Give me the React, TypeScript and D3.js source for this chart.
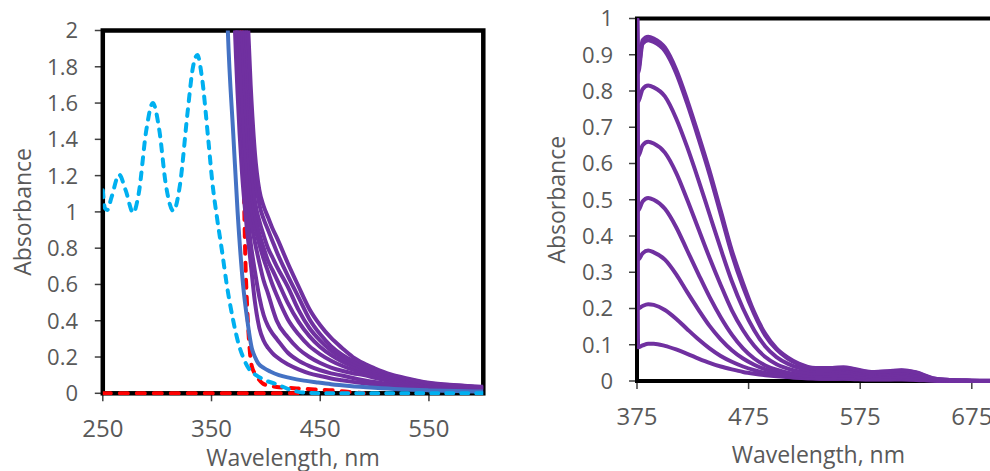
import React from "react";
import * as d3 from "d3";

// ---------- Left panel data ----------
const leftXTicks = [250, 350, 450, 550];
const leftYTicks = [0, 0.2, 0.4, 0.6, 0.8, 1, 1.2, 1.4, 1.6, 1.8, 2];
const leftYLabels = ["0", "0.2", "0.4", "0.6", "0.8", "1", "1.2", "1.4", "1.6", "1.8", "2"];

const leftGrid = [366, 370, 374, 378, 382, 386, 390, 394, 398, 402, 406, 410, 420, 430, 440, 450, 460, 470, 480, 490, 500, 515, 530, 550, 575, 600];
const leftP1 = [3.5, 2.3, 1.65, 1.22, 0.94, 0.72, 0.5, 0.36, 0.29, 0.25, 0.222, 0.2, 0.16, 0.132, 0.11, 0.095, 0.082, 0.072, 0.063, 0.055, 0.048, 0.04, 0.034, 0.028, 0.023, 0.02];
const leftP2 = [4, 2.6, 1.8, 1.35, 1.05, 0.83, 0.67, 0.53, 0.43, 0.37, 0.33, 0.3, 0.225, 0.18, 0.15, 0.127, 0.11, 0.098, 0.084, 0.072, 0.062, 0.05, 0.042, 0.034, 0.028, 0.023];
const leftP3 = [4.5, 3, 2.0, 1.5, 1.15, 0.96, 0.83, 0.72, 0.62, 0.55, 0.47, 0.4, 0.31, 0.245, 0.2, 0.167, 0.142, 0.124, 0.111, 0.1, 0.085, 0.066, 0.053, 0.041, 0.032, 0.026];
const leftP4 = [5, 3.4, 2.3, 1.65, 1.25, 1.04, 0.92, 0.82, 0.74, 0.67, 0.6, 0.54, 0.41, 0.325, 0.26, 0.215, 0.18, 0.152, 0.13, 0.113, 0.1, 0.078, 0.062, 0.046, 0.036, 0.028];
const leftP5 = [5, 3.6, 2.6, 2.0, 1.5, 1.16, 0.98, 0.88, 0.8, 0.73, 0.68, 0.63, 0.5, 0.395, 0.315, 0.255, 0.21, 0.175, 0.148, 0.127, 0.111, 0.087, 0.069, 0.05, 0.039, 0.03];
const leftP6 = [5, 4, 3, 2.3, 1.75, 1.32, 1.06, 0.95, 0.87, 0.8, 0.75, 0.7, 0.59, 0.46, 0.36, 0.29, 0.235, 0.195, 0.163, 0.139, 0.12, 0.094, 0.074, 0.053, 0.041, 0.032];
const leftP7 = [5, 4.2, 3.3, 2.6, 1.98, 1.5, 1.2, 1.04, 0.96, 0.9, 0.84, 0.78, 0.65, 0.53, 0.41, 0.325, 0.26, 0.213, 0.178, 0.15, 0.13, 0.1, 0.078, 0.056, 0.043, 0.034];
const leftP8 = [5, 4.5, 3.6, 2.9, 2.25, 1.7, 1.32, 1.12, 1.03, 0.97, 0.91, 0.86, 0.72, 0.59, 0.465, 0.375, 0.305, 0.25, 0.2, 0.165, 0.138, 0.104, 0.082, 0.058, 0.045, 0.036];
const leftPurple = [leftP1, leftP2, leftP3, leftP4, leftP5, leftP6, leftP7, leftP8];

const blueWl = [362, 365, 370, 374, 379, 383, 387, 390, 393, 398, 404, 412, 422, 435, 447, 460, 477, 500, 523, 550, 575, 600];
const blueAbs = [2.6, 2.0, 1.43, 1.0, 0.6, 0.4, 0.25, 0.2, 0.165, 0.14, 0.12, 0.1, 0.085, 0.07, 0.06, 0.05, 0.04, 0.03, 0.022, 0.016, 0.012, 0.01];

const cyanWl = [250, 252, 254, 258, 265, 271, 278, 283, 290, 296, 302, 308, 315, 321, 328, 333, 337, 341, 347, 351, 355, 360, 364, 370, 375, 379, 385, 391, 400, 410, 420, 430, 440, 460, 600];
const cyanAbs = [1.12, 1.02, 1.01, 1.08, 1.205, 1.12, 0.995, 1.1, 1.45, 1.6, 1.45, 1.15, 1.005, 1.15, 1.55, 1.8, 1.865, 1.75, 1.4, 1.15, 0.97, 0.77, 0.6, 0.4, 0.27, 0.2, 0.13, 0.1, 0.07, 0.05, 0.025, 0.008, 0.002, 0, 0];

const redWl = [376, 379, 381, 383, 385, 387, 391, 397, 404, 410, 420, 431, 445, 462, 475, 490];
const redAbs = [2.5, 1.4, 0.77, 0.45, 0.25, 0.15, 0.1, 0.055, 0.04, 0.035, 0.03, 0.026, 0.021, 0.016, 0.008, 0];
const redBaseWl = [250, 430];
const redBaseAbs = [0, 0];

// ---------- Right panel data ----------
const rightXTicks = [375, 475, 575, 675];
const rightYTicks = [0, 0.1, 0.2, 0.3, 0.4, 0.5, 0.6, 0.7, 0.8, 0.9, 1];
const rightYLabels = ["0", "0.1", "0.2", "0.3", "0.4", "0.5", "0.6", "0.7", "0.8", "0.9", "1"];

const rightGrid = [375, 376, 380, 385, 390, 400, 410, 420, 430, 440, 450, 460, 470, 480, 490, 500, 510, 520, 535, 550, 560, 570, 585, 600, 612, 625, 640, 655, 675, 700];
const rightC8 = [1.05, 0.86, 0.94, 0.95, 0.945, 0.92, 0.86, 0.775, 0.68, 0.58, 0.47, 0.36, 0.27, 0.19, 0.13, 0.09, 0.065, 0.048, 0.036, 0.036, 0.038, 0.033, 0.025, 0.027, 0.03, 0.024, 0.008, 0.003, 0.001, 0];
const rightC7 = [1.05, 0.85, 0.93, 0.94, 0.935, 0.91, 0.85, 0.765, 0.67, 0.57, 0.46, 0.35, 0.26, 0.185, 0.125, 0.087, 0.062, 0.046, 0.034, 0.034, 0.036, 0.031, 0.024, 0.026, 0.029, 0.023, 0.007, 0.003, 0.001, 0];
const rightC6 = [1.05, 0.77, 0.805, 0.815, 0.81, 0.785, 0.725, 0.645, 0.555, 0.46, 0.365, 0.275, 0.2, 0.14, 0.095, 0.066, 0.048, 0.036, 0.028, 0.029, 0.031, 0.027, 0.02, 0.022, 0.025, 0.019, 0.006, 0.002, 0.001, 0];
const rightC5 = [1.05, 0.62, 0.65, 0.66, 0.655, 0.63, 0.575, 0.5, 0.42, 0.34, 0.265, 0.195, 0.14, 0.097, 0.066, 0.046, 0.034, 0.026, 0.021, 0.022, 0.024, 0.021, 0.016, 0.017, 0.02, 0.015, 0.005, 0.002, 0.001, 0];
const rightC4 = [1.05, 0.47, 0.495, 0.505, 0.5, 0.475, 0.425, 0.36, 0.295, 0.232, 0.176, 0.128, 0.09, 0.062, 0.043, 0.031, 0.023, 0.018, 0.014, 0.015, 0.016, 0.014, 0.011, 0.012, 0.014, 0.011, 0.004, 0.001, 0, 0];
const rightC3 = [1.05, 0.335, 0.352, 0.36, 0.355, 0.335, 0.295, 0.245, 0.197, 0.152, 0.115, 0.085, 0.062, 0.045, 0.032, 0.023, 0.017, 0.013, 0.01, 0.01, 0.011, 0.01, 0.008, 0.008, 0.009, 0.007, 0.003, 0.001, 0, 0];
const rightC2 = [1.05, 0.2, 0.207, 0.212, 0.21, 0.196, 0.172, 0.143, 0.115, 0.09, 0.069, 0.053, 0.04, 0.03, 0.022, 0.016, 0.012, 0.009, 0.007, 0.006, 0.007, 0.006, 0.005, 0.005, 0.006, 0.004, 0.002, 0.001, 0, 0];
const rightC1 = [1.05, 0.093, 0.098, 0.103, 0.103, 0.097, 0.087, 0.075, 0.062, 0.05, 0.04, 0.032, 0.025, 0.02, 0.016, 0.013, 0.011, 0.009, 0.007, 0.006, 0.006, 0.005, 0.004, 0.004, 0.004, 0.003, 0.001, 0, 0, 0];
const rightCurves = [rightC1, rightC2, rightC3, rightC4, rightC5, rightC6, rightC7, rightC8];

const PURPLE = "#7030A0";
const BLUE = "#4472C4";
const CYAN = "#00B0F0";
const RED = "#FF0000";
const TEXT = "#595959";
const TICK = "#404040";
const FONT = "'Open Sans', sans-serif";

function zip(xs: number[], ys: number[]): [number, number][] {
  return xs.map((x, i) => [x, ys[i]]);
}

export default function App() {
  // Left scales
  const lx = d3.scaleLinear().domain([250, 600]).range([102.8, 483.3]);
  const ly = d3.scaleLinear().domain([0, 2]).range([393.3, 30.5]);
  // Right scales
  const rx = d3.scaleLinear().domain([375, 700]).range([637, 999.7]);
  const ry = d3.scaleLinear().domain([0, 1]).range([381, 18.5]);

  const lLine = d3
    .line<[number, number]>()
    .x((d) => lx(d[0]))
    .y((d) => ly(d[1]))
    .curve(d3.curveMonotoneX);
  const rLine = d3
    .line<[number, number]>()
    .x((d) => rx(d[0]))
    .y((d) => ry(d[1]))
    .curve(d3.curveMonotoneX);

  const fsY = 22;
  const fsX = 24;
  const fsT = 23;

  return (
    <svg
      width={990}
      height={471}
      style={{ position: "absolute", left: 0, top: 0, background: "#fff" }}
      fontFamily={FONT}
    >
      <defs>
        <clipPath id="clipL">
          <rect x={lx(250)} y={ly(2)} width={lx(600) - lx(250)} height={ly(0) - ly(2) + 2} />
        </clipPath>
        <clipPath id="clipR">
          <rect x={rx(375)} y={ry(1)} width={rx(700) - rx(375)} height={ry(0) - ry(1) + 2} />
        </clipPath>
      </defs>
      <rect x={0} y={0} width={990} height={471} fill="#fff" />

      {/* ---------- Left panel ---------- */}
      <g>
        {leftYTicks.map((t, i) => (
          <g key={"ly" + i}>
            <line x1={lx(250) - 8} x2={lx(250)} y1={ly(t)} y2={ly(t)} stroke={TICK} strokeWidth={1.5} />
            <text x={78} y={ly(t) + fsY * 0.36} textAnchor="end" fontSize={fsY} fill={TEXT}>
              {leftYLabels[i]}
            </text>
          </g>
        ))}
        {leftXTicks.map((t) => (
          <g key={"lx" + t}>
            <line x1={lx(t)} x2={lx(t)} y1={ly(0)} y2={ly(0) + 8} stroke={TICK} strokeWidth={1.5} />
            <text x={lx(t)} y={437} textAnchor="middle" fontSize={fsX} fill={TEXT}>
              {t}
            </text>
          </g>
        ))}
        <rect
          x={lx(250)}
          y={ly(2)}
          width={lx(600) - lx(250)}
          height={ly(0) - ly(2)}
          fill="none"
          stroke="#000"
          strokeWidth={4.5}
        />
        <g clipPath="url(#clipL)" fill="none" strokeLinejoin="round">
          <path
            d={lLine(zip(redBaseWl, redBaseAbs)) || ""}
            stroke={RED}
            strokeWidth={4}
            strokeDasharray="8 9"
            strokeLinecap="round"
          />
          <path
            d={lLine(zip(redWl, redAbs)) || ""}
            stroke={RED}
            strokeWidth={4}
            strokeDasharray="8 9"
            strokeLinecap="round"
          />
          {leftPurple.map((vals, i) => (
            <path key={"lp" + i} d={lLine(zip(leftGrid, vals)) || ""} stroke={PURPLE} strokeWidth={4} />
          ))}
          <path d={lLine(zip(blueWl, blueAbs)) || ""} stroke={BLUE} strokeWidth={4} />
          <path
            d={lLine(zip(cyanWl, cyanAbs)) || ""}
            stroke={CYAN}
            strokeWidth={4}
            strokeDasharray="7 8"
            strokeLinecap="round"
          />
        </g>
        <text
          transform={`translate(30.7, ${(ly(0) + ly(2)) / 2}) rotate(-90)`}
          textAnchor="middle"
          fontSize={fsT}
          fill={TEXT}
        >
          Absorbance
        </text>
        <text x={(lx(250) + lx(600)) / 2} y={466} textAnchor="middle" fontSize={fsT} fill={TEXT}>
          Wavelength, nm
        </text>
      </g>

      {/* ---------- Right panel ---------- */}
      <g>
        {rightYTicks.map((t, i) => (
          <g key={"ry" + i}>
            <line x1={rx(375) - 8} x2={rx(375)} y1={ry(t)} y2={ry(t)} stroke={TICK} strokeWidth={1.5} />
            <text x={613} y={ry(t) + fsY * 0.36} textAnchor="end" fontSize={fsY} fill={TEXT}>
              {rightYLabels[i]}
            </text>
          </g>
        ))}
        {rightXTicks.map((t) => (
          <g key={"rx" + t}>
            <line x1={rx(t)} x2={rx(t)} y1={ry(0)} y2={ry(0) + 8} stroke={TICK} strokeWidth={1.5} />
            <text x={rx(t)} y={425} textAnchor="middle" fontSize={fsX} fill={TEXT}>
              {t}
            </text>
          </g>
        ))}
        <rect
          x={rx(375)}
          y={ry(1)}
          width={rx(700) - rx(375)}
          height={ry(0) - ry(1)}
          fill="none"
          stroke="#000"
          strokeWidth={4}
        />
        <g clipPath="url(#clipR)" fill="none" strokeLinejoin="round">
          {rightCurves.map((vals, i) => (
            <path key={"rp" + i} d={rLine(zip(rightGrid, vals)) || ""} stroke={PURPLE} strokeWidth={4} />
          ))}
        </g>
        <text
          transform={`translate(565, ${(ry(0) + ry(1)) / 2}) rotate(-90)`}
          textAnchor="middle"
          fontSize={fsT}
          fill={TEXT}
        >
          Absorbance
        </text>
        <text x={(rx(375) + rx(700)) / 2} y={463} textAnchor="middle" fontSize={fsT} fill={TEXT}>
          Wavelength, nm
        </text>
      </g>
    </svg>
  );
}
